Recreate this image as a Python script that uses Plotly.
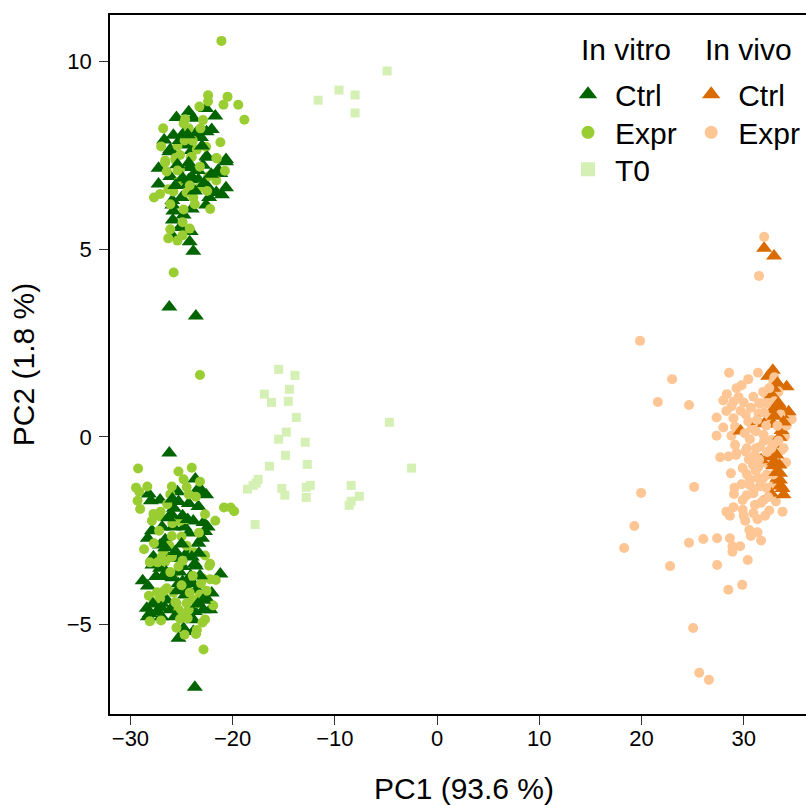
import plotly.graph_objects as go

FONT = "Liberation Sans"
DARK_GREEN = "#006400"
LIGHT_GREEN = "#9ACD32"
PALE_GREEN = "#D5F0B5"
DARK_ORANGE = "#D96B00"
PALE_ORANGE = "#FFC695"

t0_x = [-15.5,-13.9,-14.45,-16.9,-16.2,-14.55,-13.77,-4.67,-14.75,-15.5,-12.9,-14.84,-16.4,-12.7,-2.5,-17.5,-17.7,-18.0,-18.55,-15.2,-14.9,-12.4,-12.8,-12.8,-8.4,-7.6,-8.4,-8.6,-17.8,-11.64,-9.59,-8.02,-8.02,-4.89,-28.1,-27.7]
t0_y = [1.80,1.64,1.27,1.14,0.92,0.95,0.52,0.39,0.13,-0.06,-0.14,-0.49,-0.78,-0.73,-0.83,-1.13,-1.23,-1.29,-1.39,-1.37,-1.55,-1.29,-1.34,-1.61,-1.29,-1.58,-1.71,-1.82,-2.33,8.97,9.24,9.11,8.63,9.75,-4.9,-4.85]

vitro_ctrl_x = [-24.3,-25.5,-22.6,-21.7,-23.85,-22.05,-22.55,-24.8,-25.8,-23.6,-23.1,-26.7,-26.1,-24.65,-24,-22.55,-20.65,
    -26.2,-22.5,-20.65,-27.25,-22.9,-24.2,-21.4,-21.2,-26.1,-24,-23.35,-27.25,-24.65,-22.4,-20.65,-21.6,-21.05,-25,-22.3,-25.9,-25.9,-22.6,-24,-25.8,-24.8,-25.85,-25.15,-24.1,-25.85,-24.2,-23.85,
    -25.2,-24.3,-23.4,-22.1,-24.9,-25.6,-23.7,-24.3,-25.4,-22.8,-23,-24.4,
    -26.2,-23.6,
    -26.2,-23.65,-25.4,-23.35,-22.95,-22.6,-28.2,-28,-27.1,-25.3,-24.3,-23.35,-25.75,-25.95,-23.85,-22.85,-22.45,-27.9,-26.9,-25.8,-24.7,-28.3,-22.7,-26.6,-24.3,-23,-23.35,-27.1,-25.15,-26.3,-27.75,-23.7,-24.5,
    -23.6,-24.9,-21.2,-27.85,-27.1,-27.5,-28.8,-28.3,-26.7,-25.3,-24.5,-23.85,-23.5,-24.65,-22.05,-22.55,-26.45,-26.95,-28.4,-26.1,-27.4,-28.1,-28.3,-26.95,-22.85,-22.2,-23.7,-23.85,-25.65,-24.8,-25.3,-23.85,-23.7,
    -26.5,-25.9,-25.2,-24.9,-24.6,-25.4,-24.1,-23.2,-27.8,-27,-26.6,-25.6,-25,-24,-23.3,-25.9,-24.9,-24.4,-26.3,-22.9,-23.4]
vitro_ctrl_y = [8.66,8.51,8.75,8.55,8.49,8.19,8.13,8.09,8.04,8.09,7.98,7.91,7.66,7.78,7.63,7.48,7.39,
    7.6,7.45,7.33,7.16,7.24,7.18,7.11,7.02,6.94,6.93,6.86,6.74,6.71,6.65,6.64,6.51,6.45,6.38,6.38,6.3,6.18,6.18,6.07,6.02,5.91,5.78,5.58,5.47,5.34,5.2,4.95,
    7.9,7.3,7.1,7.0,6.9,6.7,6.55,6.85,7.25,6.75,7.75,8.05,
    3.46,3.22,
    -0.43,-1.12,-1.46,-1.37,-1.46,-1.54,-1.52,-1.7,-1.68,-1.72,-1.77,-1.85,-1.9,-2.08,-2.24,-2.28,-2.4,-2.5,-2.4,-2.4,-2.4,-2.7,-2.52,-2.74,-2.56,-2.7,-2.83,-2.88,-3.23,-3.23,-3.19,-3.38,-3.1,
    -3.44,-3.45,-3.65,-3.41,-3.5,-3.72,-3.83,-3.97,-3.72,-3.91,-3.9,-3.91,-4.07,-4.21,-4.16,-4.3,-4.34,-4.43,-4.56,-4.6,-4.65,-4.7,-4.79,-4.79,-4.6,-4.6,-4.65,-4.87,-4.79,-5.1,-5.36,-5.18,-6.67,
    -3.6,-3.75,-3.6,-3.85,-4.0,-4.1,-3.7,-3.7,-4.45,-4.55,-2.95,-3.05,-2.85,-3.2,-3.1,-1.65,-2.1,-2.2,-2.15,-4.35,-4.45]

vitro_expr_x = [-21.1,-22.4,-20.5,-22.4,-20.9,-19.45,-23.25,-18.85,-24.65,-24.8,-26.8,-22.9,-24.3,-23.15,-23.9,-21.2,-27,-22.6,-25.4,-23.5,-24,-21.6,-25.15,-25.6,-26.6,
    -26.6,-25.6,-24.1,-21.55,-20.75,-26.45,-25.15,-22.4,-21.6,-25.3,-26.3,-23.2,-27.1,-27.7,-25.8,-24.5,-23.85,-23.7,-26.1,-22.2,-24.8,-24.9,-26.1,-24.2,-24.9,-26.3,-25.4,-25.77,
    -24.7,-25.4,-23.2,-22.5,-24.2,
    -23.2,
    -29.25,-25.3,-24,-24.8,-23.2,-29.45,-29.15,-28.35,-25.95,-24.5,-26.1,-24.3,-23.6,-29.3,-29.05,-26.4,-20.85,-20.2,-19.85,-27.75,-27.05,-27.1,-27.9,-22.7,-21.7,-24.55,-25.15,-25.95,-25,-23.3,-27.7,-26.2,-24.5,-28.67,-26.8,-23.8,-22.7,-26.95,-25.95,-28.1,-27.35,-26.6,-22.2,
    -22.3,-25.8,-22.9,-22.2,-21.65,-23.1,-26.45,-25.8,-22.55,-28.2,-27.4,-27.75,-27.1,-25.5,-23.85,-24.5,-21.9,-25.3,-24.3,-23.5,-27,-28.1,-22.7,-22.95,-25.15,-24.4,-25.5,-23.5,-23.6,-24.7,-22.85,
    -25,-24.2,-26.7,-25.6,-23.2,-24.8,-25.9,-24.9,-26.1,-25.3,-23.9,-27.2]
vitro_expr_y = [10.55,9.1,9.06,8.94,8.85,8.85,8.8,8.45,8.46,8.35,8.22,8.44,8.22,8.22,7.89,7.85,7.74,7.73,7.76,7.66,7.46,7.43,7.51,7.43,7.36,
    7.31,7.38,7.45,7.42,7.09,7.07,7.11,6.94,6.83,6.8,6.6,6.65,6.47,6.38,6.54,6.51,6.38,6.2,6.2,6.07,6.06,5.72,5.53,5.55,5.37,5.29,5.23,4.38,
    7.9,7.1,7.2,6.55,6.7,
    1.65,
    -0.84,-0.92,-0.82,-1.13,-1.19,-1.35,-1.46,-1.32,-1.32,-1.34,-1.53,-1.53,-1.59,-1.7,-1.92,-1.79,-1.88,-1.88,-1.98,-2.05,-1.99,-2.12,-2.23,-2.06,-2.23,-2.19,-2.24,-2.64,-2.65,-2.55,-2.83,-2.89,-2.9,-2.99,-3.05,-3.07,-3.16,-3.2,-3.2,-3.34,-3.34,-3.32,-3.38,
    -3.43,-3.68,-3.77,-3.79,-3.81,-3.9,-4.03,-4.15,-4.1,-4.23,-4.14,-4.4,-4.3,-4.43,-4.34,-4.43,-4.49,-4.6,-4.6,-4.43,-4.89,-4.91,-4.86,-4.94,-4.85,-4.83,-5.08,-5.14,-5.25,-5.27,-5.66,
    -3.95,-4.15,-4.1,-4.4,-4.2,-4.7,-2.3,-3.3,-3.6,-3.45,-3.7,-2.5]

vivo_ctrl_x = [32.85,32.4,34.2,33.3,32.75,33.55,32.85,34.4,33.7,31.45,32.9,32,29.7,33.7,33.5,33.2,32.4,31.7,33,32.9,33.55,33.55,33.8,32.65,33.9,32,32.97,
    33.2,33.5,33.3,33.6,32.9,33.4,33.9,33,33.2]
vivo_ctrl_y = [1.78,1.62,1.34,1.43,1.12,0.81,0.72,0.67,0.59,0.41,0.34,0.35,0.16,0.17,-0.01,-0.48,-0.52,-0.61,-0.66,-0.77,-0.97,-1.15,-1.37,-1.5,-1.54,5.03,4.82,
    -0.2,-0.75,-1.1,-1.3,1.3,0.9,0.4,0.55,-0.95]

vivo_expr_x = [28.57,31.4,30.45,29.8,29.3,33,32.9,28.35,29.5,28,29,30,30.95,32.1,33.4,28.8,30.7,31.75,28.3,29.7,31.45,27.35,29,30.45,34.7,32.6,28,29.15,30.8,27.35,28.8,30.6,31.95,32.75,34.05,29.15,30.3,31.6,33.7,27.7,28.5,29.3,31.1,
    29.25,30.2,34.15,32.25,31.45,29.9,28.75,30.3,32.25,30.6,29.8,29.1,30.6,31.6,32.85,29.05,30.95,29.9,31.95,33.15,31.1,29,28.3,29.9,32.5,33.8,28.65,30,30.95,32.1,30.15,31.35,30.55,31.35,30.7,31.7,26.05,27.4,28.65,28.9,29.65,
    19.86,23,21.6,24.65,19.96,25.15,19.3,18.3,24.65,22.8,27.4,29.85,28.5,25.05,25.65,26.6,31.5,32,28.9,30.4,
    31.9,32.3,33,33.6,32.2,31.2,32.9,32.3,33.4,31.5,32.9,31.4,32.2,31.2,30.5,30.1,31.5,34.2,
    32,32.5,31,31.9,31.2,32,32.7,33.3,30.3,30.9,32.4,31.3,30.2,33.9,31.7]
vivo_expr_y = [1.71,1.71,1.54,1.38,1.3,1.59,1.47,1.14,1.06,0.97,0.94,0.92,1.07,1.16,1.2,0.81,0.78,0.9,0.69,0.7,0.63,0.52,0.5,0.41,0.47,0.5,0.25,0.27,0.23,0.03,0.03,-0.06,0.05,-0.08,0.01,-0.21,-0.3,-0.26,-0.35,-0.54,-0.52,-0.43,-0.48,
    -0.48,-0.39,-0.68,-0.7,-0.79,-0.83,-0.97,-0.99,-1.01,-1.13,-1.26,-1.35,-1.28,-1.31,-1.3,-1.52,-1.5,-1.68,-1.68,-1.72,-1.81,-1.87,-1.99,-1.94,-1.96,-1.99,-2.1,-2.1,-2.03,-2.1,-2.23,-2.19,-2.48,-2.54,-2.64,-2.76,-2.72,-2.7,-2.7,-2.91,-2.91,
    2.56,1.54,0.93,0.85,-1.49,-1.33,-2.37,-2.96,-2.82,-3.44,-3.41,-3.94,-4.07,-5.09,-6.28,-6.47,4.29,5.33,-3.06,-3.28,
    1.2,0.9,0.95,0.6,0.3,0.15,-0.2,-0.4,-0.1,-0.6,-1,-1.1,-1.35,-0.9,-0.6,0.1,0.9,0.3,
    0.65,1.3,-1.4,-1.1,-0.3,-0.1,-0.3,0.3,-1.55,-0.75,-1.6,0.45,0.6,-0.3,-1.75]

x_ticks = [-30,-20,-10,0,10,20,30]
y_ticks = [-5,0,5,10]
x_range = [-32, 37.27]
y_range = [-7.38, 11.24]

TRI_SIZE = 14
DOT_SIZE = 10

fig = go.Figure()

def mixed(xa, ya, color_a, xb, yb, color_b):
    """Draw triangles (a) and circles (b) in one trace, alternating so neither group always sits on top."""
    order = sorted([(i / len(xa), 0, i) for i in range(len(xa))] + [((i + .5) / len(xb), 1, i) for i in range(len(xb))])
    xs, ys, sym, col, siz = [], [], [], [], []
    for _, grp, i in order:
        xs.append(xb[i] if grp else xa[i])
        ys.append(yb[i] if grp else ya[i])
        sym.append("circle" if grp else "triangle-up")
        col.append(color_b if grp else color_a)
        siz.append(DOT_SIZE if grp else TRI_SIZE)
    fig.add_trace(go.Scatter(x=xs, y=ys, mode="markers", showlegend=False,
                             marker=dict(symbol=sym, color=col, size=siz, opacity=1, line=dict(width=0))))

def key(name, symbol, color, size, legend):
    fig.add_trace(go.Scatter(x=[None], y=[None], mode="markers", name=name, legend=legend,
                             marker=dict(symbol=symbol, color=color, size=size, opacity=1, line=dict(width=0))))

fig.add_trace(go.Scatter(x=t0_x, y=t0_y, mode="markers", showlegend=False,
                         marker=dict(symbol="square", color=PALE_GREEN, size=9, opacity=1, line=dict(width=0))))
mixed(vitro_ctrl_x, vitro_ctrl_y, DARK_GREEN, vitro_expr_x, vitro_expr_y, LIGHT_GREEN)
mixed(vivo_ctrl_x, vivo_ctrl_y, DARK_ORANGE, vivo_expr_x, vivo_expr_y, PALE_ORANGE)

key("Ctrl", "triangle-up", DARK_GREEN, 16, "legend")
key("Expr", "circle", LIGHT_GREEN, 13, "legend2")
key("T0", "square", PALE_GREEN, 14, "legend3")
key("Ctrl", "triangle-up", DARK_ORANGE, 16, "legend4")
key("Expr", "circle", PALE_ORANGE, 13, "legend5")

legend_style = dict(bgcolor="rgba(0,0,0,0)", borderwidth=0, font=dict(family=FONT, size=30, color="black"),
                    itemsizing="trace", itemwidth=44, xanchor="left", yanchor="top",
                    itemclick=False, itemdoubleclick=False)

axis_style = dict(ticks="outside", ticklen=9, tickwidth=1, tickcolor="#333333",
                  showgrid=False, zeroline=False, showline=True, linecolor="black", linewidth=1.6,
                  tickfont=dict(family=FONT, size=22))

COL1, COL2 = 0.637, 0.811
ROW1, ROW2, ROW3 = 0.9238, 0.8694, 0.8165

fig.update_layout(
    width=818, height=805, autosize=False,
    paper_bgcolor="white", plot_bgcolor="white",
    margin=dict(l=110, r=0, t=15, b=91),
    showlegend=True,
    font=dict(family=FONT, color="black"),
    legend=dict(x=COL1, y=ROW1, **legend_style),
    legend2=dict(x=COL1, y=ROW2, **legend_style),
    legend3=dict(x=COL1, y=ROW3, **legend_style),
    legend4=dict(x=COL2, y=ROW1, **legend_style),
    legend5=dict(x=COL2, y=ROW2, **legend_style),
    xaxis=dict(range=x_range, tickvals=x_ticks, mirror=True, ticklabelstandoff=-5,
               title=dict(text="PC1 (93.6 %)", font=dict(family=FONT, size=30), standoff=31), **axis_style),
    yaxis=dict(range=y_range, tickvals=y_ticks, mirror=False, ticklabelstandoff=3,
               title=dict(text="PC2 (1.8 %)", font=dict(family=FONT, size=30), standoff=23), **axis_style),
    annotations=[
        dict(text="In vitro", xref="paper", yref="paper", x=0.662, y=0.95, xanchor="left", yanchor="middle",
             showarrow=False, font=dict(family=FONT, size=30, color="black")),
        dict(text="In vivo", xref="paper", yref="paper", x=0.837, y=0.95, xanchor="left", yanchor="middle",
             showarrow=False, font=dict(family=FONT, size=30, color="black")),
    ],
)

fig.write_html("out.html", config=dict(displayModeBar=False),
               post_script="document.body.style.margin='0';document.documentElement.style.overflow='hidden';")
